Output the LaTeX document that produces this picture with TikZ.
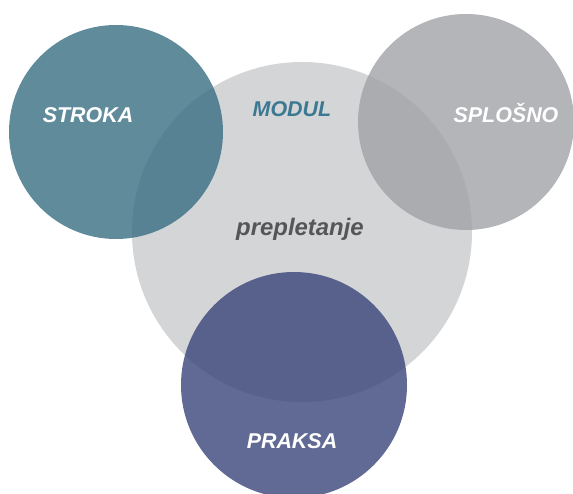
\documentclass[tikz,border=0pt]{standalone}
\usepackage{fontspec}
\setmainfont{Liberation Sans}
\begin{document}
\begin{tikzpicture}[x=1bp,y=-1bp,
  lbl/.style={font=\fontsize{21.5}{24}\selectfont\bfseries\itshape, inner sep=0pt},
  small/.style={fill opacity=0.8, draw=none}]
\definecolor{biggray}{RGB}{212,213,215}
\definecolor{teal}{RGB}{56,110,130}
\definecolor{midgray}{RGB}{161,162,166}
\definecolor{indigo}{RGB}{56,69,121}
\definecolor{modulc}{RGB}{59,120,145}
\definecolor{darktxt}{RGB}{84,86,88}
\useasboundingbox (0,0) rectangle (573,494);
\begin{scope}
\clip (0,0) rectangle (573,494);
\fill[biggray] (302,232) circle[radius=170];
\fill[teal, small] (116,132) circle[radius=107];
\fill[midgray, small] (466,122) circle[radius=108];
\fill[indigo, small] (294,385) circle[radius=113];
\end{scope}
\node[lbl, text=white] (stroka) at (88,115) {STROKA};
\node[lbl, text=modulc] (modul) at (292,109) {MODUL};
\node[lbl, text=white] (splosno) at (506,113.5) {SPLOŠNO};
\node[lbl, text=white] (praksa) at (292,441) {PRAKSA};
\node[lbl, text=darktxt, anchor=base] (prep) at (300,235) {\fontsize{24}{28}\selectfont prepletanje};
\end{tikzpicture}
\end{document}
